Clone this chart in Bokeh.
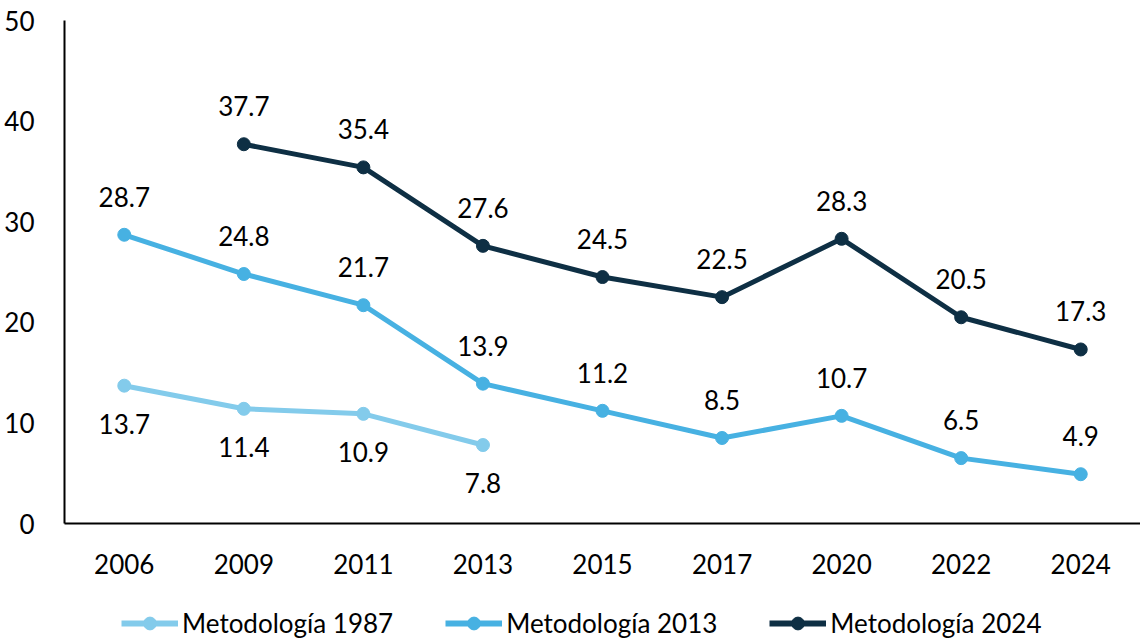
from bokeh.plotting import figure
from bokeh.layouts import column
from bokeh.models import ColumnDataSource, Legend, LegendItem, FixedTicker, Range1d, FactorRange
from bokeh.core.properties import value
from bokeh.embed import file_html
from bokeh.resources import INLINE

years = ["2006", "2009", "2011", "2013", "2015", "2017", "2020", "2022", "2024"]
yrs_1987 = ["2006", "2009", "2011", "2013"]
vals_1987 = [13.7, 11.4, 10.9, 7.8]
yrs_2013 = years
vals_2013 = [28.7, 24.8, 21.7, 13.9, 11.2, 8.5, 10.7, 6.5, 4.9]
yrs_2024 = ["2009", "2011", "2013", "2015", "2017", "2020", "2022", "2024"]
vals_2024 = [37.7, 35.4, 27.6, 24.5, 22.5, 28.3, 20.5, 17.3]
names = ["Metodología 1987", "Metodología 2013", "Metodología 2024"]
colors = ["#83CBEB", "#47B1E2", "#0E2F44"]

FONT = "Lato"
FS = "26px"

p = figure(width=1140, height=590, x_range=FactorRange(*years, range_padding=0),
           y_range=Range1d(0, 50), output_backend="svg", toolbar_location=None,
           min_border_left=64, min_border_right=0, min_border_top=20, min_border_bottom=67)
p.outline_line_color = None
p.xgrid.visible = False
p.ygrid.visible = False

for ax in (p.xaxis[0], p.yaxis[0]):
    ax.axis_line_color = "black"
    ax.axis_line_width = 2
    ax.major_tick_line_color = None
    ax.minor_tick_line_color = None
    ax.major_label_text_font = FONT
    ax.major_label_text_font_size = FS
    ax.major_label_text_color = "black"
p.yaxis[0].ticker = FixedTicker(ticks=[0, 10, 20, 30, 40, 50])
p.yaxis[0].major_label_standoff = 24
p.xaxis[0].major_label_standoff = 24

# legend-only figure
lg = figure(width=1140, height=49, x_range=Range1d(0, 1), y_range=Range1d(0, 1),
            output_backend="svg", toolbar_location=None, x_axis_type=None, y_axis_type=None,
            min_border_left=0, min_border_right=0, min_border_top=0, min_border_bottom=0)
lg.outline_line_color = None
lg.xgrid.visible = False
lg.ygrid.visible = False

nan = float("nan")
items = []
series = [(yrs_1987, vals_1987, -1), (yrs_2013, vals_2013, 1), (yrs_2024, vals_2024, 1)]
for (xs, ys, side), name, c in zip(series, names, colors):
    src = ColumnDataSource(dict(x=xs, y=ys, t=[f"{v:.1f}" for v in ys]))
    p.line("x", "y", source=src, line_color=c, line_width=5)
    p.scatter("x", "y", source=src, size=13, fill_color=c, line_color=c)
    p.text("x", "y", text="t", source=src, text_font=value(FONT), text_font_size=FS,
           text_color="black", text_align="center", text_baseline="middle",
           y_offset=38 * (-side))
    dummy = ColumnDataSource(dict(x=[nan], y=[nan]))
    l1 = lg.line("x", "y", source=dummy, line_color=c, line_width=6)
    l2 = lg.scatter("x", "y", source=dummy, size=13, fill_color=c, line_color=c)
    items.append(LegendItem(label=name, renderers=[l1, l2]))

legend = Legend(items=items, orientation="horizontal", location=(57, 0),
                label_text_font=FONT, label_text_font_size=FS, label_text_color="black",
                glyph_width=57, glyph_height=32, spacing=52, label_standoff=4,
                border_line_color=None, background_fill_alpha=0, margin=0, padding=5)
lg.add_layout(legend, "center")

layout = column(p, lg, spacing=0)
open("out.html", "w").write(file_html(layout, INLINE))
